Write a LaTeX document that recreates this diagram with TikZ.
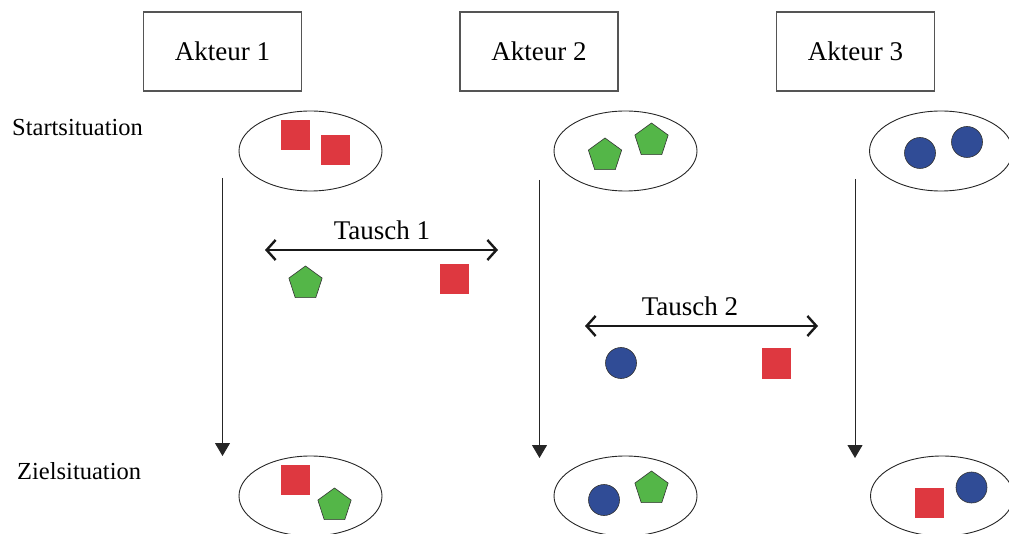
\documentclass[tikz,border=0pt]{standalone}
\usepackage{fontspec}
\setmainfont{Liberation Serif}
\usetikzlibrary{arrows.meta,shapes.geometric}
\definecolor{sqred}{RGB}{222,56,64}
\definecolor{pgreen}{RGB}{84,182,72}
\definecolor{cblue}{RGB}{48,76,150}
\definecolor{boxgray}{RGB}{85,85,85}
\tikzset{
  akteur/.style={draw=boxgray, line width=1.2pt, minimum width=158pt, minimum height=79pt, inner sep=0pt, font=\fontsize{27}{30}\selectfont},
  situation/.style={ellipse, draw=black!85, line width=0.9pt, minimum width=143pt, minimum height=80pt, inner sep=0pt},
  redsq/.style={fill=sqred, minimum width=29pt, minimum height=30pt, inner sep=0pt},
  greenpent/.style={regular polygon, regular polygon sides=5, fill=pgreen, draw=black!80, line width=0.6pt, minimum size=35pt, inner sep=0pt},
  bluecirc/.style={circle, fill=cblue, draw=black!80, line width=0.6pt, minimum size=31pt, inner sep=0pt},
  label/.style={font=\fontsize{24.5}{28}\selectfont, inner sep=0pt},
  tlabel/.style={font=\fontsize{27}{30}\selectfont, inner sep=0pt},
  timeline/.style={line width=1pt, draw=black!85, -{Triangle[width=15pt,length=13pt]}},
  swap/.style={line width=2.4pt, draw=black!90, {Straight Barb[length=9pt,width=20pt]}-{Straight Barb[length=9pt,width=20pt]}}
}
\begin{document}
\begin{tikzpicture}[x=1pt,y=-1pt]
\useasboundingbox (0,0) rectangle (1009,534);
% actors
\node[akteur] (a1) at (222.5,51.5) {Akteur 1};
\node[akteur] (a2) at (539,51.5) {Akteur 2};
\node[akteur] (a3) at (855.5,51.5) {Akteur 3};
% row labels
\node[label, anchor=base west] (start) at (12,136) {Startsituation};
\node[label, anchor=base west] (ziel) at (17,479) {Zielsituation};
% start ellipses
\node[situation] (s1) at (310.5,151) {};
\node[situation] (s2) at (625.5,151) {};
\node[situation] (s3) at (941,151) {};
\node[redsq] (s1a) at (295.5,135) {};
\node[redsq] (s1b) at (335,150) {};
\node[greenpent] (s2a) at (605,155.5) {};
\node[greenpent] (s2b) at (651.5,140.5) {};
\node[bluecirc] (s3a) at (920,153) {};
\node[bluecirc] (s3b) at (967,142) {};
% goal ellipses
\node[situation] (z1) at (310.5,496) {};
\node[situation] (z2) at (625.5,496) {};
\node[situation] (z3) at (942,496) {};
\node[redsq] (z1a) at (295.5,479.5) {};
\node[greenpent] (z1b) at (334.5,505.5) {};
\node[bluecirc] (z2a) at (604,500) {};
\node[greenpent] (z2b) at (651.5,488.5) {};
\node[redsq] (z3a) at (929.5,503) {};
\node[bluecirc] (z3b) at (971.5,487.5) {};
% time lines
\coordinate (t1s) at (222.5,178);
\coordinate (t1e) at (222.5,456);
\coordinate (t2s) at (539.5,180);
\coordinate (t2e) at (539.5,458);
\coordinate (t3s) at (855,179);
\coordinate (t3e) at (855,458);
\draw[timeline] (t1s) -- (t1e);
\draw[timeline] (t2s) -- (t2e);
\draw[timeline] (t3s) -- (t3e);
% Tausch 1
\coordinate (x1l) at (265,250);
\coordinate (x1r) at (498,250);
\draw[swap] (x1l) -- (x1r);
\node[tlabel, anchor=base] (tx1) at (382,240) {Tausch 1};
\node[greenpent] (x1a) at (305.5,283.5) {};
\node[redsq] (x1b) at (454.5,279.5) {};
% Tausch 2
\coordinate (x2l) at (585,326);
\coordinate (x2r) at (818,326);
\draw[swap] (x2l) -- (x2r);
\node[tlabel, anchor=base] (tx2) at (690,316) {Tausch 2};
\node[bluecirc] (x2a) at (621,363) {};
\node[redsq] (x2b) at (776.5,363.5) {};
\end{tikzpicture}
\end{document}
